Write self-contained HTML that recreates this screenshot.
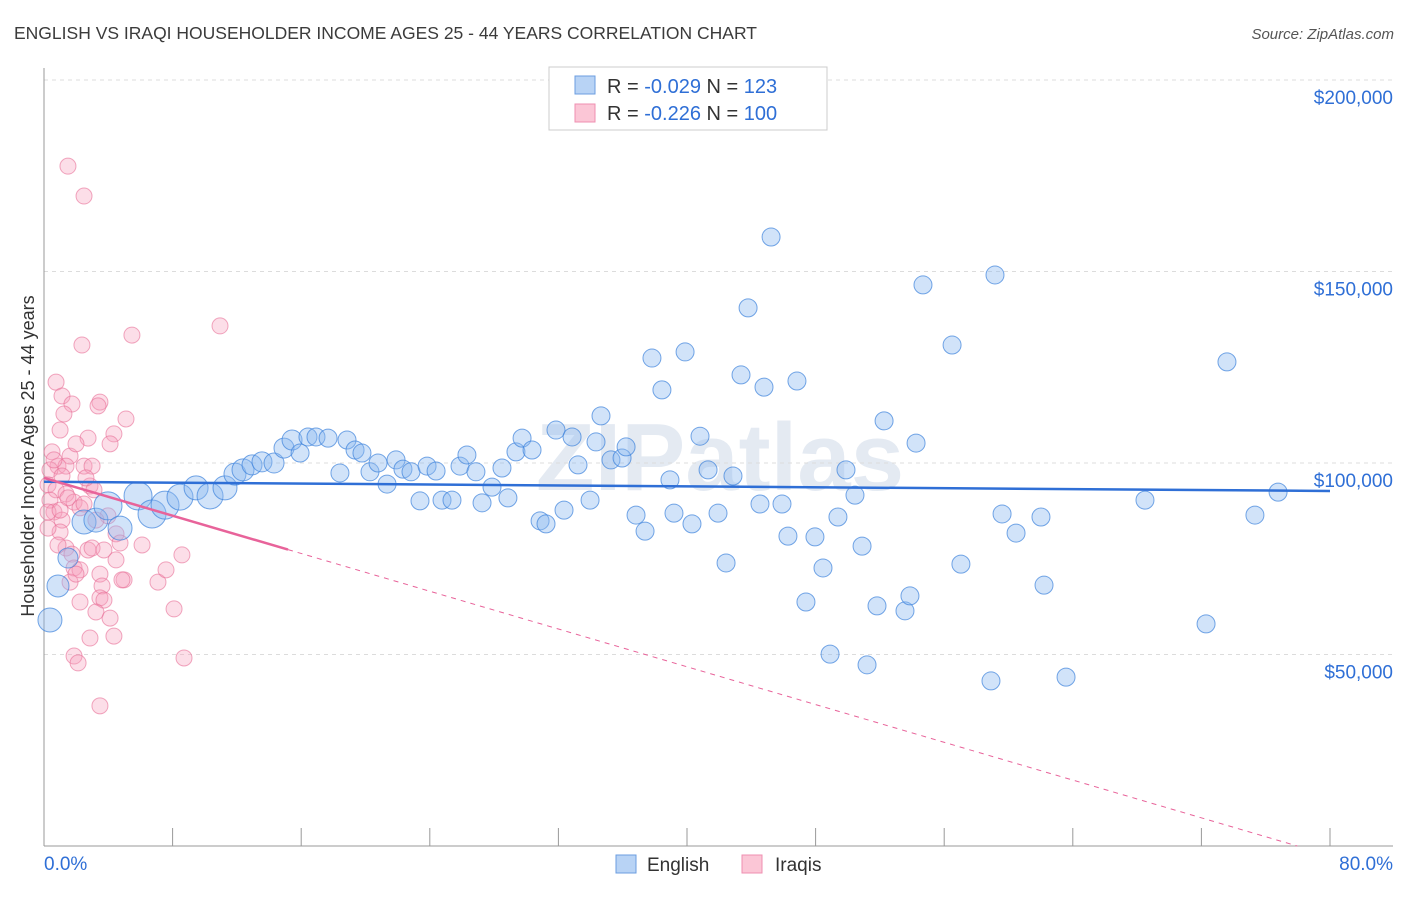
<!DOCTYPE html>
<html><head><meta charset="utf-8"><style>
body{margin:0;background:#fff;font-family:"Liberation Sans",sans-serif;}
svg text{font-family:"Liberation Sans",sans-serif;}
</style></head><body>
<svg id="chart" width="1406" height="892" xmlns="http://www.w3.org/2000/svg">
<text x="14" y="39" font-size="17.5" fill="#3b3b3b">ENGLISH VS IRAQI HOUSEHOLDER INCOME AGES 25 - 44 YEARS CORRELATION CHART</text>
<text x="1394" y="39" font-size="15" fill="#555" font-style="italic" text-anchor="end">Source: ZipAtlas.com</text>
<text x="720" y="490" font-size="96" fill="#e4eaf2" text-anchor="middle" font-weight="bold">ZIPatlas</text>
<g id="grid"></g>
<g id="axes"></g>
<g id="pink"></g>
<g id="blue"></g>
<g id="lines"></g>
<text transform="translate(34,456) rotate(-90)" font-size="18" fill="#333" text-anchor="middle">Householder Income Ages 25 - 44 years</text>
<g>
<rect x="549" y="67" width="278" height="63" fill="#fff" stroke="#ccc"/>
<rect x="575" y="76" width="20" height="18" fill="#b8d3f5" stroke="#6b9ee0"/>
<rect x="575" y="104" width="20" height="18" fill="#fbc6d6" stroke="#ef8fb0"/>
<text x="607" y="93" font-size="20" fill="#333">R = <tspan fill="#2f6fd6">-0.029</tspan>   N = <tspan fill="#2f6fd6"> 123</tspan></text>
<text x="607" y="120" font-size="20" fill="#333">R = <tspan fill="#2f6fd6"> -0.226</tspan>   N = <tspan fill="#2f6fd6">100</tspan></text>
</g>
<g>
<rect x="616" y="855" width="20" height="18" fill="#b8d3f5" stroke="#6b9ee0"/>
<text x="647" y="871" font-size="19" fill="#333">English</text>
<rect x="742" y="855" width="20" height="18" fill="#fbc6d6" stroke="#ef8fb0"/>
<text x="775" y="871" font-size="19" fill="#333">Iraqis</text>
</g>
</svg>
<script>
const yTicks=[50000,100000,150000,200000];
const yTickLabels=["$50,000","$100,000","$150,000","$200,000"];
const xTicks=[0,8,16,24,32,40,48,56,64,72,80];
const xEndLabels=["0.0%","80.0%"];
const englishX=[0.37,0.87,1.49,2.49,3.23,3.98,4.73,5.85,6.72,7.53,8.46,9.46,10.33,11.26,11.88,12.38,12.94,13.56,14.31,14.93,15.43,15.93,16.42,16.92,17.67,18.41,18.85,19.35,19.78,20.28,20.78,21.34,21.90,22.33,22.83,23.39,23.83,24.39,24.76,25.38,25.88,26.31,26.87,27.25,27.87,28.49,28.86,29.36,29.74,30.36,30.86,31.23,31.85,32.35,32.85,33.22,33.97,34.34,34.65,35.27,35.96,36.21,36.83,37.39,37.82,38.44,38.94,39.19,39.88,40.31,40.81,41.31,41.93,42.43,42.86,43.36,43.80,44.54,44.79,45.23,45.91,46.28,46.84,47.40,47.96,48.46,48.90,49.39,49.89,50.45,50.89,51.20,51.82,52.26,53.56,53.87,54.25,54.68,56.49,57.04,58.91,59.16,59.60,60.47,62.02,62.21,63.58,68.49,72.29,73.59,75.33,76.77];
const englishY=[59.0,67.9,75.2,84.6,85.1,88.8,83.0,91.4,86.7,89.0,91.1,93.5,91.4,93.5,97.1,98.2,99.5,100.3,100.0,103.9,106.0,102.6,106.8,106.8,106.5,97.4,106.0,103.4,102.6,97.7,100.0,94.5,100.8,98.4,97.7,90.1,99.2,97.9,90.3,90.3,99.2,102.1,97.7,89.6,93.7,98.7,90.9,102.9,106.5,103.4,84.9,84.1,108.6,87.7,106.8,99.5,90.3,105.5,112.3,100.8,101.3,104.2,86.4,82.2,127.4,119.1,95.6,86.9,129.0,84.1,107.0,98.2,86.9,73.9,96.6,123.0,140.5,89.3,119.8,159.0,89.3,80.9,121.4,63.7,80.7,72.6,50.1,85.9,98.2,91.6,78.3,47.3,62.7,111.0,61.4,65.3,105.2,146.5,130.8,73.6,43.1,149.1,86.7,81.7,85.9,68.1,44.1,90.3,58.0,126.4,86.4,92.4];
const englishR=[12,11,10,12,12,14,12,14,14,14,13,12,13,12,11,11,10,10,10,10,10];
const iraqiX=[1.49,2.49,5.47,10.95,2.36,0.75,1.12,1.74,1.24,3.48,3.36,5.10,1.00,2.74,4.35,0.50,1.62,1.99,0.87,1.37,2.49,0.37,1.12,2.99,0.25,0.75,1.37,1.87,2.86,0.37,0.62,1.12,1.49,2.24,3.11,0.25,2.49,1.00,1.37,1.74,2.74,2.99,3.73,4.48,4.73,6.10,8.58,1.87,2.24,1.62,1.99,3.48,3.61,4.48,4.98,7.09,7.59,3.48,3.73,2.24,3.23,4.11,8.09,2.86,4.35,1.87,2.12,8.71,3.48,0.87,0.62,0.25,1.00,3.98,4.85,3.23,2.61,4.11];
const iraqiY=[177.5,169.7,133.4,135.8,130.8,121.1,117.5,115.4,112.8,115.9,114.9,111.5,108.6,106.5,107.6,102.9,101.8,105.0,99.2,99.2,99.2,98.2,96.6,99.2,94.3,93.0,91.9,89.8,94.0,90.3,87.2,85.1,90.9,88.3,93.0,87.2,89.3,82.0,77.8,76.2,77.3,77.8,77.3,81.5,79.1,78.6,76.0,72.6,72.1,68.9,71.0,71.0,67.9,74.7,69.5,68.9,72.1,64.8,64.2,63.7,61.1,59.5,61.9,54.3,54.8,49.6,47.8,49.1,36.6,78.6,100.8,83.0,87.7,86.2,69.5,85.1,96.1,105.0];
const englishTrend=[95.1,92.7];
const iraqiTrend=[96.1,-0.00389*1000*0.6455];
const iraqiSolidEnd=15.18;
const NS="http://www.w3.org/2000/svg";
const X0=44,X1=1330;
const xs=p=>X0+(X1-X0)*p/80;
const ys=v=>846-v*191.5/50000;
function mk(tag,attrs,parent){const e=document.createElementNS(NS,tag);for(const k in attrs)e.setAttribute(k,attrs[k]);document.getElementById(parent).appendChild(e);return e;}
yTicks.forEach((t,i)=>{
  const l=mk('line',{x1:X0,x2:1393,y1:ys(t),y2:ys(t),stroke:'#dcdcdc','stroke-dasharray':'4,4'},'grid');
  
  
  const tx=mk('text',{x:1393,y:ys(t)+24,'font-size':19,fill:'#2f6fd6','text-anchor':'end'},'grid');
  tx.textContent=yTickLabels[i];
  
  
});
const ax=mk('line',{x1:X0,x2:X0,y1:68,y2:846,stroke:'#999'},'axes');


const bx=mk('line',{x1:X0,x2:1393,y1:846,y2:846,stroke:'#999'},'axes');


xTicks.forEach(t=>{
  const l=mk('line',{x1:xs(t),x2:xs(t),y1:828,y2:846,stroke:'#999'},'axes');
  
  
});
[[0,'start'],[80,'end']].forEach((d,i)=>{
  const tx=mk('text',{x:i?1393:X0,y:870,'font-size':19,fill:'#2f6fd6','text-anchor':d[1]},'axes');
  tx.textContent=xEndLabels[i];
  
  
});
iraqiX.forEach((x,i)=>{
  const c=mk('circle',{cx:xs(x),cy:ys(iraqiY[i]*1000),r:8,fill:'rgba(246,160,190,0.35)',stroke:'rgba(232,110,150,0.6)','stroke-width':1},'pink');
  
  
});
englishX.forEach((x,i)=>{
  const c=mk('circle',{cx:xs(x),cy:ys(englishY[i]*1000),r:englishR[i]||9,fill:'rgba(140,185,240,0.4)',stroke:'rgba(60,130,220,0.7)','stroke-width':1},'blue');
  
  
});
const bl=mk('line',{x1:xs(0),x2:xs(80),y1:ys(englishTrend[0]*1000),y2:ys(englishTrend[1]*1000),stroke:'#2f6fd6','stroke-width':2.5},'lines');


const slope=(iraqiTrend[1]-iraqiTrend[0])/80;
const pv=p=>iraqiTrend[0]+slope*p;
const zeroP=-iraqiTrend[0]/slope;
const ps=mk('line',{x1:xs(0),x2:xs(iraqiSolidEnd),y1:ys(pv(0)*1000),y2:ys(pv(iraqiSolidEnd)*1000),stroke:'#e8639a','stroke-width':2.5},'lines');


const pd=mk('line',{x1:xs(iraqiSolidEnd),x2:xs(zeroP),y1:ys(pv(iraqiSolidEnd)*1000),y2:ys(0),stroke:'#e8639a','stroke-width':1,'stroke-dasharray':'5,5'},'lines');


</script>
</body></html>
